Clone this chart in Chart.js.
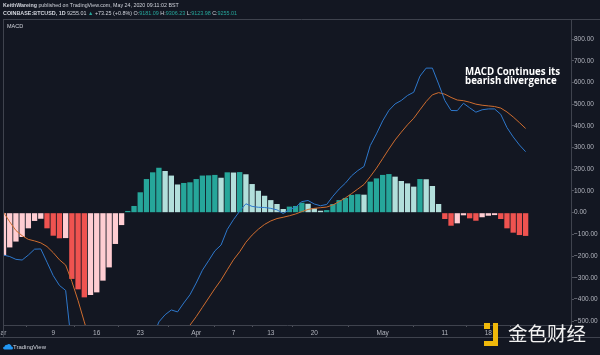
<!DOCTYPE html>
<html><head><meta charset="utf-8">
<script src="https://cdn.jsdelivr.net/npm/chart.js@4"></script>
<style>
html,body{margin:0;padding:0;background:#131722;overflow:hidden}
#wrap{position:relative;width:600px;height:355px;background:#131722}
canvas{position:absolute;left:0;top:0}
.t{position:absolute;white-space:nowrap;font-family:"Liberation Sans",Arial,sans-serif;color:#d1d4dc;line-height:1}
.g{color:#26a69a}
#note{position:absolute;left:465px;top:67px;font-family:"Open Sans",sans-serif;font-weight:700;font-size:9.7px;line-height:9px;color:#ffffff;white-space:nowrap}
#wm{position:absolute;left:508px;top:323px;font-family:"Noto Sans CJK SC",sans-serif;font-size:19.5px;line-height:19.5px;color:#f2f2f2;white-space:nowrap}
.y{position:absolute;background:#f0b90b}
</style></head><body>
<div id="wrap">
<canvas id="c" width="600" height="355"></canvas>
<div class="t" style="left:3px;top:3px;font-size:5.3px"><b>KeithWareing</b> published on TradingView.com, May 24, 2020 09:11:02 BST</div>
<div class="t" style="left:3px;top:11px;font-size:5.4px"><b>COINBASE:BTCUSD, 1D</b> 9255.01 <span class="g">▲</span> +73.25 (+0.8%) O:<span class="g">9181.09</span> H:<span class="g">9306.23</span> L:<span class="g">9123.98</span> C:<span class="g">9255.01</span></div>
<div class="t" style="left:7px;top:24px;font-size:5.5px">MACD</div>
<div id="note">MACD Continues its<br>bearish divergence</div>
<svg style="position:absolute;left:3px;top:342px" width="10" height="8" viewBox="0 0 10 8"><path d="M1.5 7.5 H8.5 A1.5 1.5 0 0 0 8.5 4.5 A2.5 2.5 0 0 0 4 3 A1.8 1.8 0 0 0 1.5 4.7 A1.4 1.4 0 0 0 1.5 7.5 Z" fill="#2196f3"/></svg>
<div class="t" style="left:13px;top:344px;font-size:6px">TradingView</div>
<div class="y" style="left:484px;top:323px;width:6px;height:6px"></div>
<div class="y" style="left:493px;top:323px;width:5px;height:23px"></div>
<div class="y" style="left:484px;top:341px;width:14px;height:5px"></div>
<div id="wm">金色财经</div>
</div>
<script>
const histogram = [-197,-160,-133,-112,-72,-38,-28,-72,-106,-118,-117,-305,-353,-390,-379,-367,-313,-252,-144,-57,
 8,31,94,155,186,207,192,171,130,137,140,155,171,172,174,161,186,185,187,177,132,101,78,58,40,17,28,31,46,41,20,9,12,
 40,58,68,82,85,83,143,158,174,178,166,146,135,120,155,154,123,40,-29,-60,-49,-12,-26,-37,-21,-14,-11,-29,-72,-92,-103,-107];
const macdLine = [-195,-202,-215,-218,-195,-168,-167,-228,-290,-335,-358,-622,-758,-893,-977,-1057,-1081,-1083,-1011,-938,
 -871,-840,-754,-654,-576,-503,-470,-448,-457,-416,-378,-324,-265,-221,-176,-149,-77,-32,7,41,29,25,24,20,13,-4,14,25,51,56,40,32,38,
 76,109,136,170,194,213,309,363,423,471,501,517,540,555,629,666,666,593,517,471,470,504,483,463,474,478,478,453,392,349,312,281];
const signalLine = [2,-42,-82,-106,-123,-130,-139,-156,-184,-217,-241,-317,-405,-503,-598,-690,-768,-831,-867,-881,
 -879,-871,-848,-809,-762,-710,-662,-619,-587,-553,-518,-479,-436,-393,-350,-310,-263,-217,-180,-136,-103,-76,-54,-38,-27,-21,-14,-6,5,15,20,23,26,
 36,51,68,88,109,130,166,205,249,293,335,371,405,435,474,512,543,553,546,531,519,516,509,500,495,492,489,482,464,441,415,388];
const tickIndex = [-0.45,8,15,22,31,37,43,50,61,71,78];
const tickText = ['Mar','9','16','23','Apr','7','13','20','May','11','18'];
const yTicks = [800,700,600,500,400,300,200,100,0,-100,-200,-300,-400,-500];

const histColors = histogram.map((v,i)=>{
  const p = i>0 ? histogram[i-1] : -Infinity;
  if (v >= 0) return v >= p ? '#26a69a' : '#b2dfdb';
  return v > p ? '#ffcdd2' : '#ef5350';
});

Chart.defaults.font.family = '"Liberation Sans", Arial, sans-serif';

const frame = {
  id:'frame',
  afterDraw(chart){
    const ctx = chart.ctx;
    ctx.save();
    ctx.strokeStyle = '#3f434e';
    ctx.lineWidth = 1;
    ctx.beginPath();
    ctx.moveTo(3,19.5); ctx.lineTo(600,19.5);
    ctx.moveTo(3.5,19); ctx.lineTo(3.5,338);
    ctx.moveTo(0,337.5); ctx.lineTo(600,337.5);
    ctx.moveTo(571.5,19); ctx.lineTo(571.5,338);
    ctx.stroke();
    ctx.restore();
  }
};

new Chart(document.getElementById('c'), {
  type:'bar',
  data:{
    datasets:[
      {type:'line', label:'MACD', data: macdLine.map((v,i)=>({x:i,y:v})), borderColor:'#2e78cc', borderWidth:1, pointRadius:0, tension:0, order:1},
      {type:'line', label:'Signal', data: signalLine.map((v,i)=>({x:i,y:v})), borderColor:'#cf6d2f', borderWidth:1, pointRadius:0, tension:0, order:2},
      {type:'bar', label:'Histogram', data: histogram.map((v,i)=>({x:i,y:v})), backgroundColor: histColors, borderWidth:0, barPercentage:1, categoryPercentage:0.86, order:3}
    ]
  },
  options:{
    responsive:false, animation:false,
    layout:{padding:{left:3, top:19, right:0, bottom:0}},
    plugins:{legend:{display:false}, tooltip:{enabled:false}},
    scales:{
      x:{type:'linear', min:-0.08, max:91.3, offset:false,
        grid:{drawOnChartArea:false, drawTicks:true, tickLength:2, color:'#50535e'},
        border:{display:true, color:'#3f434e'},
        afterBuildTicks: s => { s.ticks = tickIndex.map(v=>({value:v})); },
        ticks:{autoSkip:false, maxRotation:0, padding:2, color:'#b2b5be', font:{size:6.5},
          callback: v => { const k = tickIndex.indexOf(v); return k >= 0 ? tickText[k] : ''; }},
        afterFit: s => { s.paddingLeft = 0; s.paddingRight = 0; s.height = 30; }
      },
      y:{position:'right', min:-517.3, max:892.2,
        grid:{drawOnChartArea:false, tickLength:3, color:'#50535e'},
        border:{display:true, color:'#3f434e'},
        afterBuildTicks: s => { s.ticks = yTicks.map(v=>({value:v})); },
        ticks:{padding:0, color:'#b2b5be', font:{size:6.5},
          callback: v => v.toFixed(2).replace('-','−')},
        afterFit: s => { s.width = 29; s.paddingTop = 0; s.paddingBottom = 0; }
      }
    }
  },
  plugins:[frame]
});
</script>
</body></html>
